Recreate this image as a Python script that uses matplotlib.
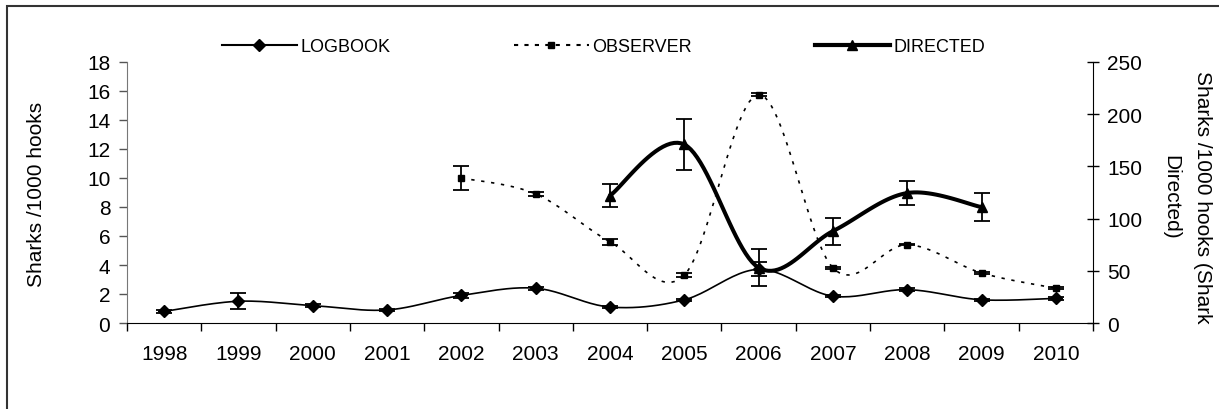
import numpy as np
import matplotlib.pyplot as plt
from matplotlib.patches import Rectangle

plt.rcParams["font.family"] = ["Liberation Sans", "DejaVu Sans"]

years = ["1998", "1999", "2000", "2001", "2002", "2003", "2004",
         "2005", "2006", "2007", "2008", "2009", "2010"]

nan = np.nan
logbook = [0.8, 1.5, 1.2, 0.9, 1.9, 2.4, 1.1, 1.6, 3.7, 1.85, 2.3, 1.6, 1.7]
logbook_err = [0.12, 0.55, 0.08, 0.1, 0.2, 0.1, 0.08, 0.08, 0.48, 0.08, 0.08, 0.08, 0.08]
observer = [nan, nan, nan, nan, 10.0, 8.9, 5.6, 3.3, 15.75, 3.8, 5.4, 3.45, 2.4]
observer_err = [nan, nan, nan, nan, 0.85, 0.12, 0.2, 0.12, 0.1, 0.05, 0.05, 0.05, 0.05]
directed = [nan, nan, nan, nan, nan, nan, 122, 171, 53, 88, 124.5, 111, nan]
directed_err = [nan, nan, nan, nan, nan, nan, 11, 24, 18, 13, 11.5, 13.5, nan]


def smooth(x, y, n=24):
    """Catmull-Rom style bezier through each run of valid points."""
    x = np.asarray(x, float)
    y = np.asarray(y, float)
    ok = ~np.isnan(y)
    px, py = x[ok], y[ok]
    if len(px) < 3:
        return px, py
    p = np.column_stack([px, py])
    p = np.vstack([p[0], p, p[-1]])
    out = []
    t = np.linspace(0, 1, n)[:, None]
    for i in range(1, len(p) - 2):
        p0, p3 = p[i], p[i + 1]
        c1 = p0 + (p[i + 1] - p[i - 1]) / 6
        c2 = p3 - (p[i + 2] - p[i]) / 6
        seg = ((1 - t) ** 3) * p0 + 3 * ((1 - t) ** 2) * t * c1 \
            + 3 * (1 - t) * t ** 2 * c2 + t ** 3 * p3
        out.append(seg if i == 1 else seg[1:])
    out = np.vstack(out)
    return out[:, 0], out[:, 1]


fig = plt.figure(figsize=(12.19, 4.10), dpi=100)
ax = fig.add_axes([127 / 1219, 1 - 324 / 410, 966 / 1219, 261 / 410])
ax2 = ax.twinx()

x = np.arange(len(years))

# smoothed lines
lx, ly = smooth(x, logbook)
ax.plot(lx, ly, color="black", lw=1.2, zorder=3)
ox, oy = smooth(x, observer)
ax.plot(ox, oy, color="black", lw=1.2, dashes=(2, 4), zorder=3)
dx, dy = smooth(x, directed)
ax2.plot(dx, dy, color="black", lw=2.9, solid_capstyle="round", zorder=3)

# markers and error bars
eb = dict(fmt="none", ecolor="black", elinewidth=1.3, capsize=5.5, capthick=1.3, zorder=4)
ax.errorbar(x, logbook, yerr=logbook_err, **eb)
ax.errorbar(x, observer, yerr=observer_err, **eb)
ax2.errorbar(x, directed, yerr=directed_err, **eb)
ax.plot(x, logbook, ls="none", marker="D", ms=6, color="black", zorder=5)
ax.plot(x, observer, ls="none", marker="s", ms=5, color="black", zorder=5)
ax2.plot(x, directed, ls="none", marker="^", ms=7, color="black", zorder=5)

# axes
ax.set_xlim(-0.5, len(years) - 0.5)
ax.set_ylim(0, 18)
ax.set_yticks(np.arange(0, 19, 2))
ax2.set_ylim(0, 250)
ax2.set_yticks(np.arange(0, 251, 50))
ax.set_xticks(x)
ax.set_xticklabels(years)
ax.set_xticks(np.arange(-0.5, len(years), 1), minor=True)
ax.tick_params(axis="x", which="major", length=0, pad=15, labelsize=15)
ax.tick_params(axis="x", which="minor", length=6, width=1, direction="out")
ax.tick_params(axis="y", length=6, width=1, direction="out", pad=6, labelsize=15,
               color="#555555")
ax2.tick_params(axis="y", length=8, width=1, direction="inout", pad=6, labelsize=15)

for a in (ax, ax2):
    a.spines["top"].set_visible(False)
ax.spines["right"].set_visible(False)
ax2.spines["left"].set_visible(False)
ax2.spines["bottom"].set_visible(False)
ax.spines["left"].set_color("#777777")
ax2.spines["right"].set_color("black")

fig.text(37 / 1219, 1 - 194 / 410, "Sharks /1000 hooks", rotation=90,
         ha="center", va="center", fontsize=15)
fig.text(1187 / 1219, 1 - 197 / 410, "Sharks /1000 hooks (Shark\nDirected)",
         rotation=270, ha="center", va="center", fontsize=15,
         multialignment="center", linespacing=1.85)

# legend
h_log, = ax.plot([], [], color="black", lw=1.5, marker="D", ms=6)
h_obs, = ax.plot([], [], color="black", lw=1.5, dashes=(2, 3), marker="s", ms=5)
h_dir, = ax.plot([], [], color="black", lw=3, marker="^", ms=7)
fig.legend([h_log, h_obs, h_dir], ["LOGBOOK", "OBSERVER", "DIRECTED"],
           loc="center left", bbox_to_anchor=(222 / 1219, 1 - 48 / 410),
           ncol=3, frameon=False, fontsize=13, numpoints=1,
           handlelength=4.15, handletextpad=0.22, columnspacing=6.8,
           borderpad=0, borderaxespad=0)

fig.patches.append(Rectangle((7 / 1219, -0.1), 1.2, 1.1 - 7 / 410,
                             transform=fig.transFigure, fill=False,
                             edgecolor="#333333", lw=1.5))

fig.savefig("out.png", dpi=100)
